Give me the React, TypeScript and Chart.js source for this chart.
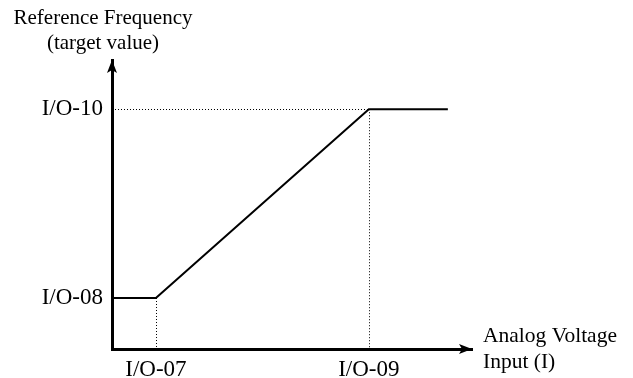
import React, { useEffect, useRef } from "react";
import { Chart, registerables } from "chart.js";

Chart.register(...registerables);

// Abstract input / output levels of the characteristic curve
const xTickValues = [2, 11.7];
const xTickLabels = ["I/O-07", "I/O-09"];
const yTickValues = [2, 9.4];
const yTickLabels = ["I/O-08", "I/O-10"];
const curveX = [0, 2, 11.7, 15.3];
const curveY = [2, 2, 9.4, 9.4];
const xAxisMax = 16.4;
const yAxisMax = 11.33;
const yTitleLines = ["Reference Frequency", "(target value)"];
const xTitleLines = ["Analog Voltage", "Input (I)"];

const FONT = "'Liberation Serif', 'Times New Roman', serif";

const decorPlugin = {
  id: "decor",
  afterDraw(chart: any) {
    const ctx = chart.ctx as CanvasRenderingContext2D;
    const xs = chart.scales.x;
    const ys = chart.scales.y;
    const area = chart.chartArea;
    ctx.save();
    // dotted guide lines
    ctx.strokeStyle = "#000";
    ctx.lineWidth = 1;
    ctx.setLineDash([1, 2]);
    const xa = xs.getPixelForValue(curveX[1]);
    const ya = ys.getPixelForValue(curveY[1]);
    const xb = xs.getPixelForValue(curveX[2]);
    const yb = ys.getPixelForValue(curveY[2]);
    ctx.beginPath();
    ctx.moveTo(Math.round(xa) + 0.5, ya);
    ctx.lineTo(Math.round(xa) + 0.5, area.bottom);
    ctx.moveTo(Math.round(xb) + 0.5, yb);
    ctx.lineTo(Math.round(xb) + 0.5, area.bottom);
    ctx.moveTo(area.left, Math.round(yb) + 0.5);
    ctx.lineTo(xb, Math.round(yb) + 0.5);
    ctx.stroke();
    ctx.setLineDash([]);
    // arrowheads
    ctx.fillStyle = "#000";
    ctx.beginPath();
    ctx.moveTo(area.left, area.top);
    ctx.lineTo(area.left - 5, area.top + 13);
    ctx.lineTo(area.left, area.top + 10);
    ctx.lineTo(area.left + 5, area.top + 13);
    ctx.closePath();
    ctx.fill();
    ctx.beginPath();
    ctx.moveTo(area.right, area.bottom);
    ctx.lineTo(area.right - 13, area.bottom - 5);
    ctx.lineTo(area.right - 10, area.bottom);
    ctx.lineTo(area.right - 13, area.bottom + 5);
    ctx.closePath();
    ctx.fill();
    // axis titles
    ctx.font = `21px ${FONT}`;
    ctx.textAlign = "center";
    ctx.textBaseline = "middle";
    ctx.fillText(yTitleLines[0], 103, 18);
    ctx.fillText(yTitleLines[1], 103, 43);
    ctx.textAlign = "left";
    ctx.font = `21.5px ${FONT}`;
    ctx.fillText(xTitleLines[0], 483, 336);
    ctx.fillText(xTitleLines[1], 483, 362);
    ctx.restore();
  },
};

export default function App() {
  const ref = useRef<HTMLCanvasElement>(null);
  useEffect(() => {
    if (!ref.current) return;
    const chart = new Chart(ref.current, {
      type: "line",
      data: {
        datasets: [
          {
            data: curveX.map((x, i) => ({ x, y: curveY[i] })),
            borderColor: "#000",
            borderWidth: 2,
            pointRadius: 0,
            fill: false,
            tension: 0,
          },
        ],
      },
      options: {
        responsive: false,
        animation: false,
        layout: { padding: { left: 0, top: 60, right: 161, bottom: 0 } },
        plugins: { legend: { display: false }, tooltip: { enabled: false } },
        scales: {
          x: {
            type: "linear",
            min: 0,
            max: xAxisMax,
            afterFit(scale: any) {
              scale.height = 29;
            },
            afterBuildTicks(scale: any) {
              scale.ticks = xTickValues.map((v) => ({ value: v }));
            },
            grid: { display: false, drawTicks: false },
            border: { display: true, color: "#000", width: 3 },
            ticks: {
              color: "#000",
              font: { family: FONT, size: 23 },
              padding: 7,
              maxRotation: 0,
              autoSkip: false,
              callback: (v: any) => {
                const i = xTickValues.indexOf(Number(v));
                return i >= 0 ? xTickLabels[i] : "";
              },
            },
          },
          y: {
            type: "linear",
            min: 0,
            max: yAxisMax,
            afterFit(scale: any) {
              scale.width = 112;
            },
            afterBuildTicks(scale: any) {
              scale.ticks = yTickValues.map((v) => ({ value: v }));
            },
            grid: { display: false, drawTicks: false },
            border: { display: true, color: "#000", width: 3 },
            ticks: {
              color: "#000",
              font: { family: FONT, size: 23 },
              padding: 9,
              autoSkip: false,
              callback: (v: any) => {
                const i = yTickValues.indexOf(Number(v));
                return i >= 0 ? yTickLabels[i] : "";
              },
            },
          },
        },
      },
      plugins: [decorPlugin],
    });
    return () => chart.destroy();
  }, []);
  return (
    <div style={{ position: "absolute", left: 0, top: 0, width: 633, height: 378, background: "#fff" }}>
      <canvas ref={ref} width={633} height={378} style={{ display: "block" }} />
    </div>
  );
}
